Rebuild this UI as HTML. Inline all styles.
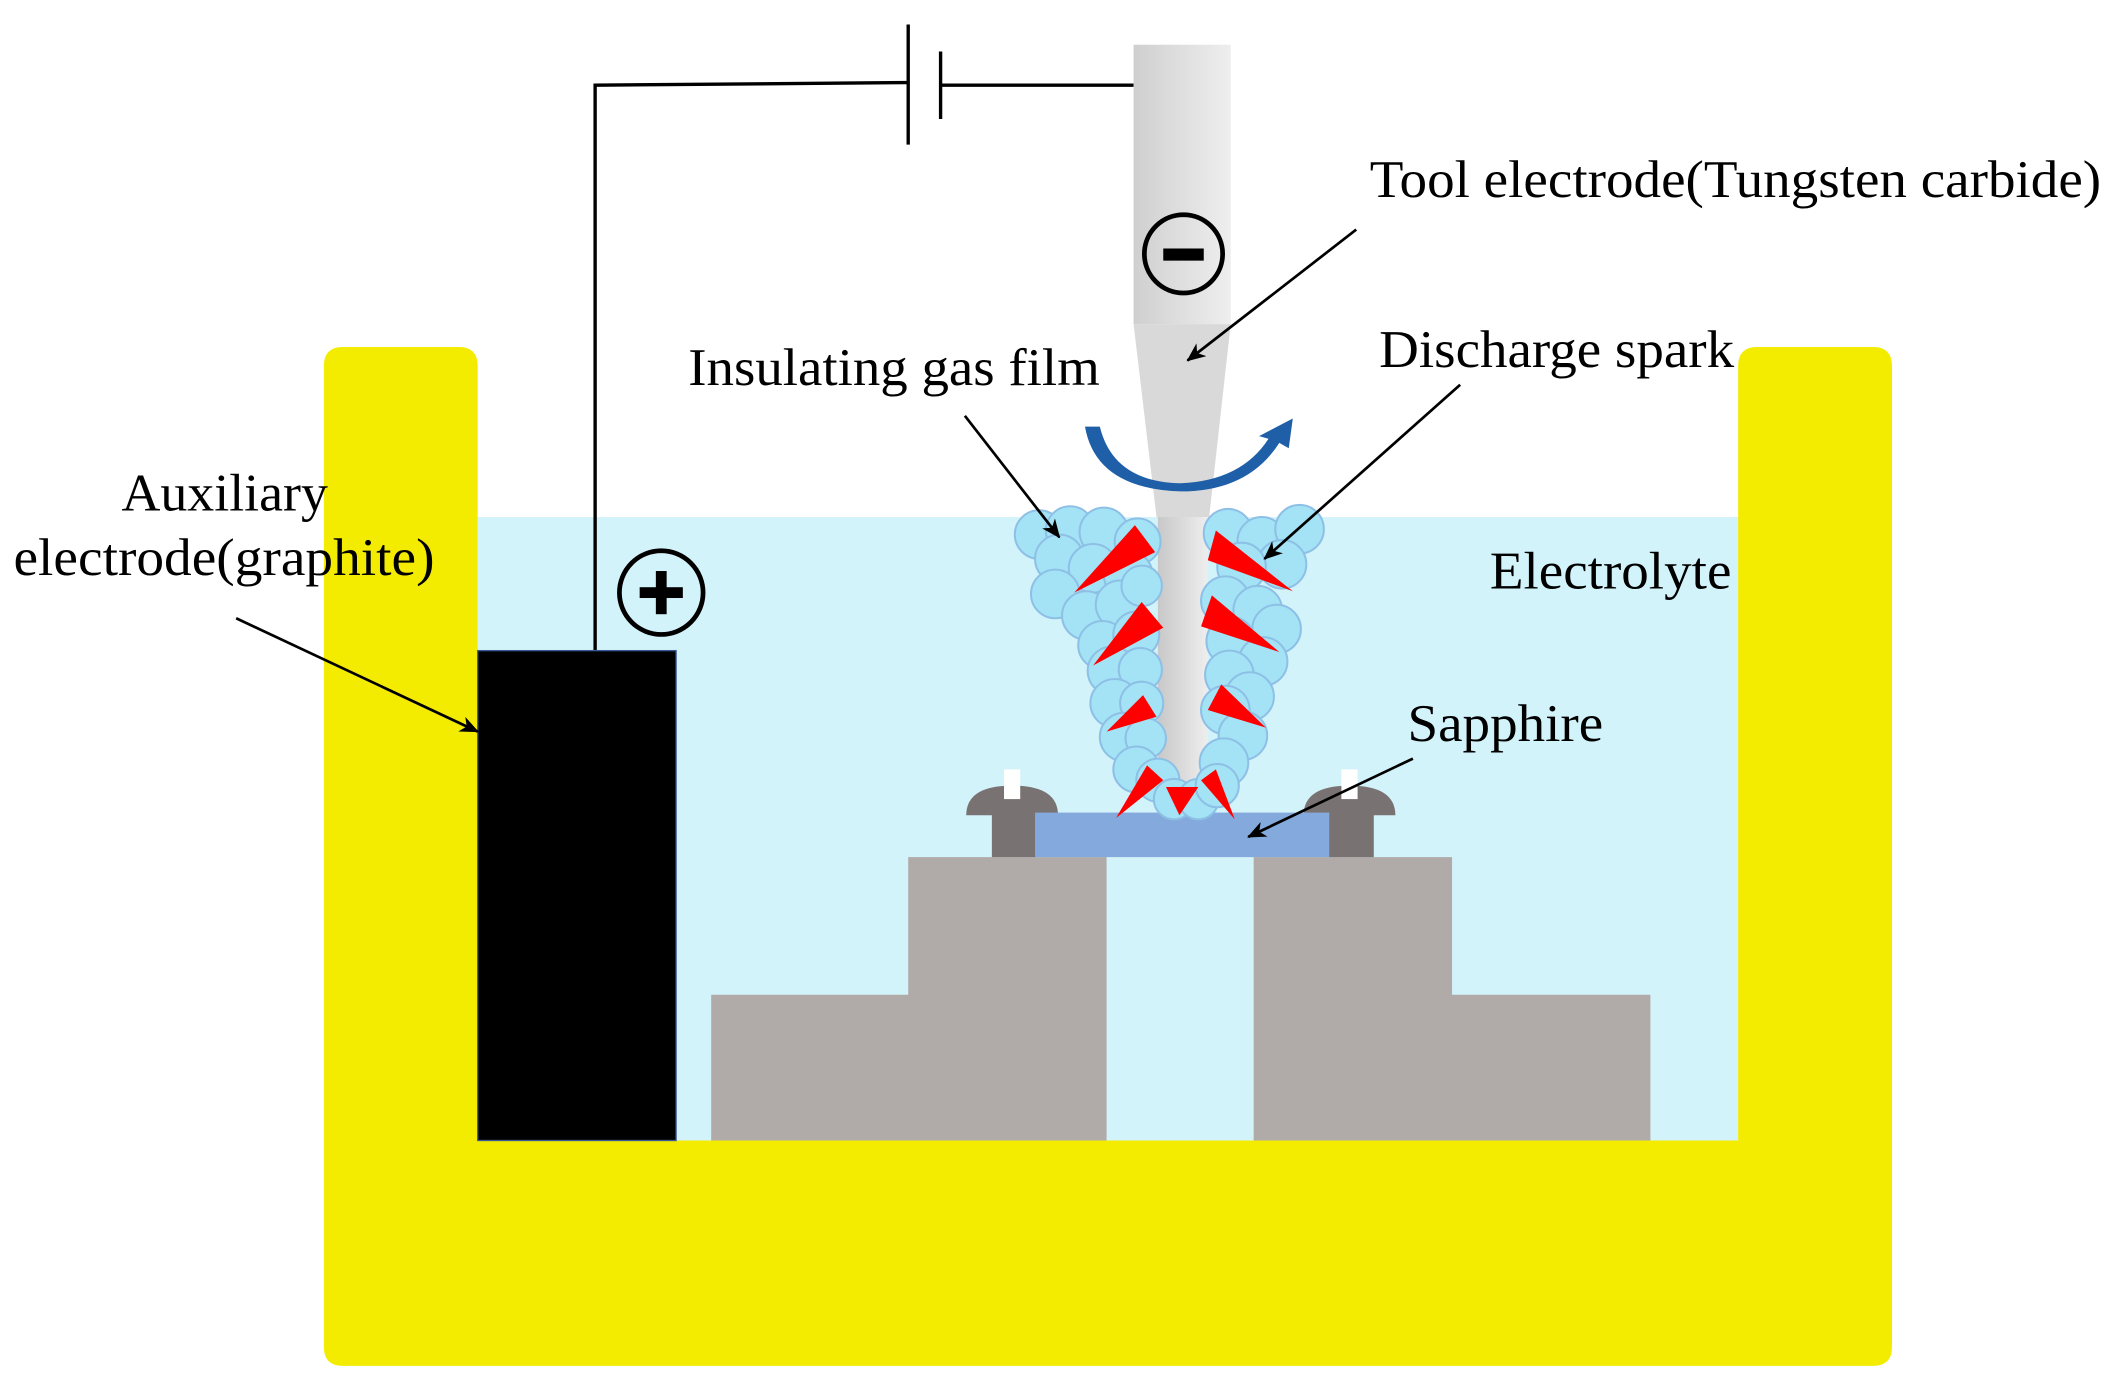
<!DOCTYPE html>
<html><head><meta charset="utf-8"><style>
html,body{margin:0;padding:0;background:#fff;width:2116px;height:1389px;overflow:hidden}
svg{display:block}
text{font-family:"Liberation Serif",serif;font-size:39px;fill:#000}
</style></head><body>
<svg width="2116" height="1389" viewBox="0 0 1568 1029" xmlns="http://www.w3.org/2000/svg">
<defs>
<linearGradient id="tg" x1="0" x2="1"><stop offset="0" stop-color="#cfcfcf"/><stop offset="0.4" stop-color="#dcdcdc"/><stop offset="1" stop-color="#eeeeee"/></linearGradient>
<linearGradient id="ng" x1="0" x2="1"><stop offset="0" stop-color="#c8c8c8"/><stop offset="1" stop-color="#eeeeee"/></linearGradient>
<marker id="ah" markerWidth="14" markerHeight="12" refX="13" refY="6" orient="auto" markerUnits="userSpaceOnUse"><path d="M0,0 L14,6 L0,12 L4,6 Z" fill="#000"/></marker>
</defs>
<rect x="354" y="383" width="934" height="462" fill="#d3f3fa"/>
<path d="M254,257 H340 Q354,257 354,271 V845 H1288 V271 Q1288,257 1302,257 H1388 Q1402,257 1402,271 V998 Q1402,1012 1388,1012 H254 Q240,1012 240,998 V271 Q240,257 254,257 Z" fill="#f4ec00"/>
<polyline points="441,482 441,63 672,61" fill="none" stroke="#000" stroke-width="2.5"/>
<line x1="673" y1="18" x2="673" y2="107" stroke="#000" stroke-width="2.5"/>
<line x1="697" y1="38" x2="697" y2="88" stroke="#000" stroke-width="2.5"/>
<line x1="697" y1="63" x2="840" y2="63" stroke="#000" stroke-width="2.5"/>
<rect x="354" y="482" width="147" height="363" fill="#000" stroke="#3a5a9a" stroke-width="1"/>
<circle cx="490" cy="439" r="31" fill="none" stroke="#000" stroke-width="3.5"/>
<rect x="474" y="435" width="32" height="8" fill="#000"/><rect x="486" y="423" width="8" height="32" fill="#000"/>
<rect x="840" y="33" width="72" height="207" fill="url(#tg)"/>
<path d="M840,240 H912 L896,383 H857 Z" fill="#d9d9d9"/>
<path d="M858,383 H895 V580 Q895,586 889,586 H864 Q858,586 858,580 Z" fill="url(#ng)"/>
<circle cx="877" cy="188" r="29" fill="none" stroke="#000" stroke-width="3.5"/>
<rect x="862" y="184" width="30" height="9" fill="#000"/>
<path d="M804,316 H815 Q825,357 875,358 Q920,356 940,325 L933,323 L958,310 L955,332 L948,328 Q925,364 875,364 Q812,362 804,316 Z" fill="#1e5fa8"/>
<rect x="673" y="635" width="147" height="210" fill="#b0aba8"/>
<rect x="527" y="737" width="147" height="108" fill="#b0aba8"/>
<rect x="929" y="635" width="147" height="210" fill="#b0aba8"/>
<rect x="1075" y="737" width="148" height="108" fill="#b0aba8"/>
<path d="M716,604 Q716,582 750,582 Q784,582 784,604 Z" fill="#797272"/>
<rect x="735" y="600" width="33" height="35" fill="#797272"/>
<rect x="744" y="570" width="12" height="22" fill="#fff"/>
<path d="M966,604 Q966,582 1000,582 Q1034,582 1034,604 Z" fill="#797272"/>
<rect x="984" y="600" width="34" height="35" fill="#797272"/>
<rect x="994" y="570" width="12" height="22" fill="#fff"/>
<rect x="767" y="602" width="218" height="33" fill="#84a9dc"/>
<g fill="#a3e3f5" stroke="#8ec0e6" stroke-width="1.5">
<circle cx="770" cy="396" r="18"/><circle cx="793" cy="393" r="18"/><circle cx="818" cy="394" r="18"/><circle cx="843" cy="401" r="17"/>
<circle cx="785" cy="414" r="18"/><circle cx="810" cy="421" r="18"/><circle cx="836" cy="426" r="18"/>
<circle cx="782" cy="440" r="18"/><circle cx="805" cy="456" r="18"/><circle cx="830" cy="448" r="18"/><circle cx="846" cy="434" r="15"/>
<circle cx="817" cy="478" r="18"/><circle cx="842" cy="470" r="17"/><circle cx="824" cy="497" r="18"/><circle cx="845" cy="496" r="16"/>
<circle cx="826" cy="521" r="18"/><circle cx="846" cy="521" r="16"/><circle cx="833" cy="546" r="18"/><circle cx="849" cy="547" r="15"/>
<circle cx="842" cy="570" r="17"/><circle cx="858" cy="578" r="16"/><circle cx="870" cy="592" r="15"/><circle cx="888" cy="592" r="15"/>
<circle cx="910" cy="395" r="18"/><circle cx="935" cy="401" r="18"/><circle cx="963" cy="392" r="18"/><circle cx="950" cy="418" r="18"/>
<circle cx="920" cy="420" r="18"/><circle cx="908" cy="445" r="18"/><circle cx="932" cy="452" r="18"/><circle cx="946" cy="466" r="18"/>
<circle cx="912" cy="475" r="18"/><circle cx="936" cy="490" r="18"/><circle cx="911" cy="500" r="18"/><circle cx="926" cy="516" r="18"/>
<circle cx="908" cy="526" r="18"/><circle cx="921" cy="545" r="18"/><circle cx="907" cy="565" r="18"/><circle cx="902" cy="582" r="16"/>
</g>
<g fill="#ff0000">
<polygon points="841,389 856,409 796,439"/><polygon points="846,446 862,465 810,493"/><polygon points="847,515 857,531 820,542"/>
<polygon points="850,567 862,578 827,606"/><polygon points="864,583 888,583 874,604"/><polygon points="890,578 901,570 915,607"/>
<polygon points="901,393 895,415 958,438"/><polygon points="898,441 890,464 948,483"/><polygon points="905,507 895,526 938,539"/>
</g>
<g stroke="#000" stroke-width="2" marker-end="url(#ah)">
<line x1="1005" y1="170" x2="880" y2="267"/>
<line x1="715" y1="308" x2="785" y2="398"/>
<line x1="1082" y1="285" x2="937" y2="414"/>
<line x1="175" y1="458" x2="354" y2="542"/>
<line x1="1047" y1="562" x2="925" y2="620"/>
</g>
<g lengthAdjust="spacingAndGlyphs">
<text x="1015" y="146" textLength="542" lengthAdjust="spacingAndGlyphs">Tool electrode(Tungsten carbide)</text>
<text x="510" y="285" textLength="305" lengthAdjust="spacingAndGlyphs">Insulating gas film</text>
<text x="1022" y="272" textLength="263" lengthAdjust="spacingAndGlyphs">Discharge spark</text>
<text x="90" y="378" textLength="153" lengthAdjust="spacingAndGlyphs">Auxiliary</text>
<text x="10" y="426" textLength="312" lengthAdjust="spacingAndGlyphs">electrode(graphite)</text>
<text x="1104" y="436" textLength="179" lengthAdjust="spacingAndGlyphs">Electrolyte</text>
<text x="1043" y="549" textLength="145" lengthAdjust="spacingAndGlyphs">Sapphire</text>
</g>
</svg>
</body></html>
